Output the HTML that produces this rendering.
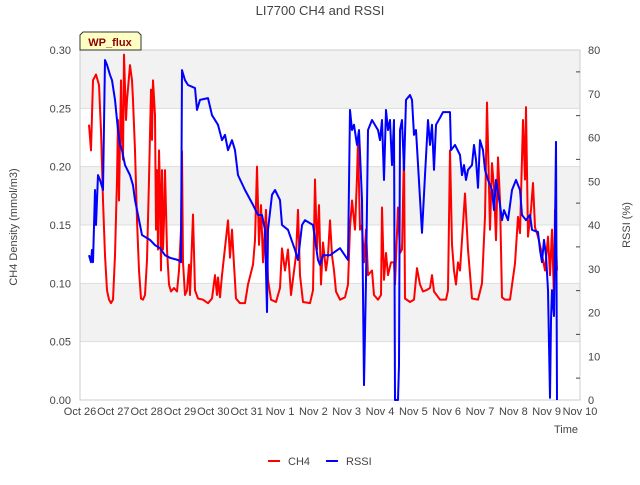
<!DOCTYPE html>
<html><head><meta charset="utf-8"><style>
body{margin:0;background:#fff;}
svg text{font-family:"Liberation Sans","DejaVu Sans",sans-serif;fill:#444;}
</style></head><body>
<svg id="chart" width="640" height="480" viewBox="0 0 640 480" xmlns="http://www.w3.org/2000/svg">
<g id="bands"></g>
<g id="grid"></g>
<rect x="80" y="50" width="500" height="350" fill="none" stroke="#ccc"/>
<text x="320" y="15" text-anchor="middle" font-size="13">LI7700 CH4 and RSSI</text>
<g id="yticks"></g><g id="y2ticks"></g><g id="xticks"></g>
<text transform="translate(17,227) rotate(-90)" text-anchor="middle" font-size="11">CH4 Density (mmol/m3)</text>
<text transform="translate(630,225) rotate(-90)" text-anchor="middle" font-size="11">RSSI (%)</text>
<text x="578" y="433" text-anchor="end" font-size="11">Time</text>
<g id="series"></g>
<g>
<path d="M83,32 L138,32 L141,35 L141,50 L80,50 L80,35 Z" fill="#ffffc4" stroke="#333"/>
<text x="110" y="46" text-anchor="middle" font-size="11" font-weight="bold" style="fill:#8b0000">WP_flux</text>
</g>
<g>
<line x1="268" y1="461" x2="280" y2="461" stroke="#f00" stroke-width="2"/>
<text x="288" y="465" font-size="11">CH4</text>
<line x1="326" y1="461" x2="338" y2="461" stroke="#00f" stroke-width="2"/>
<text x="346" y="465" font-size="11">RSSI</text>
</g>
</svg>
<script>
const xLabels=["Oct 26","Oct 27","Oct 28","Oct 29","Oct 30","Oct 31","Nov 1","Nov 2","Nov 3","Nov 4","Nov 5","Nov 6","Nov 7","Nov 8","Nov 9","Nov 10"];
const yTicks=[0,0.05,0.10,0.15,0.20,0.25,0.30];
const y2Ticks=[0,10,20,30,40,50,60,70,80];
const ch4Days=[0.27,0.33,0.39,0.48,0.57,0.63,0.69,0.75,0.81,0.87,0.93,0.99,1.05,1.11,1.14,1.17,1.23,1.26,1.29,1.32,1.38,1.41,1.50,1.56,1.59,1.65,1.71,1.77,1.83,1.89,1.95,2.01,2.07,2.13,2.16,2.19,2.25,2.28,2.31,2.34,2.37,2.40,2.43,2.46,2.49,2.52,2.55,2.61,2.67,2.73,2.82,2.91,2.97,3.03,3.06,3.09,3.15,3.21,3.27,3.30,3.39,3.45,3.54,3.69,3.84,3.96,4.05,4.11,4.14,4.20,4.26,4.44,4.50,4.56,4.62,4.68,4.80,4.95,5.04,5.19,5.25,5.31,5.37,5.43,5.49,5.58,5.64,5.73,5.88,6.00,6.06,6.15,6.24,6.33,6.48,6.54,6.60,6.69,6.90,6.99,7.05,7.11,7.17,7.23,7.29,7.38,7.44,7.50,7.56,7.62,7.68,7.80,7.95,8.04,8.10,8.16,8.25,8.31,8.34,8.40,8.46,8.52,8.58,8.64,8.76,8.82,8.94,9.03,9.06,9.12,9.18,9.24,9.33,9.42,9.45,9.54,9.60,9.66,9.72,9.75,9.90,10.02,10.11,10.20,10.29,10.38,10.50,10.56,10.62,10.80,10.98,11.04,11.10,11.16,11.22,11.28,11.34,11.40,11.55,11.64,11.76,11.94,12.06,12.15,12.21,12.30,12.36,12.42,12.48,12.54,12.60,12.66,12.75,12.90,13.05,13.14,13.20,13.29,13.35,13.38,13.44,13.53,13.59,13.65,13.74,13.83,13.95,14.04,14.10,14.16,14.22,14.25,14.31];
const ch4Values=[0.236,0.214,0.274,0.279,0.270,0.231,0.171,0.124,0.094,0.086,0.083,0.086,0.124,0.189,0.240,0.171,0.274,0.223,0.206,0.296,0.240,0.257,0.287,0.274,0.257,0.214,0.154,0.111,0.087,0.086,0.090,0.120,0.189,0.266,0.223,0.274,0.244,0.146,0.197,0.129,0.214,0.180,0.111,0.197,0.129,0.154,0.197,0.129,0.099,0.093,0.096,0.093,0.111,0.146,0.213,0.118,0.090,0.094,0.116,0.090,0.159,0.094,0.087,0.086,0.083,0.087,0.107,0.090,0.105,0.088,0.107,0.154,0.122,0.146,0.116,0.087,0.083,0.083,0.099,0.116,0.137,0.200,0.133,0.167,0.118,0.163,0.103,0.086,0.084,0.096,0.130,0.111,0.129,0.090,0.124,0.163,0.107,0.084,0.083,0.094,0.189,0.129,0.167,0.099,0.135,0.111,0.124,0.154,0.124,0.111,0.093,0.086,0.088,0.099,0.148,0.171,0.146,0.191,0.223,0.146,0.150,0.118,0.146,0.107,0.111,0.090,0.086,0.090,0.165,0.103,0.126,0.107,0.118,0.118,0.099,0.165,0.126,0.129,0.212,0.087,0.084,0.086,0.113,0.099,0.093,0.094,0.096,0.107,0.093,0.086,0.086,0.094,0.214,0.133,0.111,0.099,0.118,0.111,0.177,0.129,0.087,0.086,0.100,0.157,0.255,0.146,0.203,0.182,0.137,0.208,0.171,0.088,0.086,0.086,0.117,0.157,0.143,0.240,0.189,0.251,0.140,0.163,0.186,0.148,0.140,0.129,0.111,0.140,0.107,0.146,0.086,0.163,0.111];
const rssiDays=[0.27,0.33,0.36,0.39,0.45,0.48,0.54,0.60,0.69,0.75,0.81,0.90,0.96,1.05,1.11,1.14,1.20,1.26,1.35,1.50,1.59,1.65,1.74,1.80,1.86,2.10,2.25,2.40,2.55,2.70,2.94,3.03,3.06,3.15,3.24,3.45,3.51,3.60,3.84,3.96,4.14,4.26,4.35,4.44,4.56,4.65,4.74,4.95,5.19,5.34,5.46,5.55,5.61,5.64,5.76,5.85,6.00,6.06,6.24,6.45,6.54,6.66,6.75,6.99,7.14,7.20,7.29,7.50,7.80,8.04,8.10,8.16,8.22,8.31,8.37,8.46,8.52,8.58,8.64,8.76,8.94,9.00,9.06,9.12,9.18,9.24,9.30,9.36,9.42,9.45,9.54,9.57,9.60,9.66,9.72,9.78,9.90,9.96,10.02,10.08,10.26,10.35,10.44,10.50,10.56,10.62,10.68,10.80,10.89,11.10,11.13,11.25,11.40,11.46,11.52,11.58,11.64,11.76,11.82,11.88,11.94,12.00,12.09,12.15,12.24,12.36,12.42,12.48,12.60,12.66,12.72,12.84,12.96,13.08,13.20,13.26,13.38,13.50,13.56,13.74,13.80,13.86,13.92,13.98,14.04,14.10,14.13,14.16,14.22,14.28,14.31];
const rssiValues=[33.1,31.5,34.3,31.5,48.0,40.0,51.4,50.3,48.0,77.7,76.6,74.3,73.1,68.6,64.0,61.7,58.3,57.1,53.7,51.4,49.1,45.7,42.3,40.0,37.7,36.6,35.4,34.7,33.1,32.5,32.0,31.5,75.4,73.1,72.0,71.3,66.3,68.6,69.0,65.1,62.9,59.4,60.6,57.1,59.4,57.1,51.4,48.0,44.6,42.3,42.3,38.9,20.1,38.9,46.9,48.0,45.7,40.0,38.9,34.3,32.0,40.0,41.1,40.0,32.0,30.9,33.1,33.1,34.7,32.0,66.3,61.7,62.9,58.3,61.7,45.7,3.4,27.4,61.7,64.0,61.7,59.4,64.0,50.3,66.3,61.7,64.0,53.7,64.0,0,0,8.0,61.7,64.0,52.6,68.6,69.7,68.6,60.6,61.7,38.2,51.4,64.0,58.3,62.9,52.6,62.9,64.5,65.8,65.8,57.1,58.3,56.0,51.4,53.7,50.3,52.6,53.7,58.3,54.9,48.5,59.4,57.1,52.6,50.3,48.0,43.4,50.3,44.6,41.1,43.4,41.1,48.0,50.3,48.0,42.3,41.1,42.3,38.9,38.4,34.3,31.5,36.6,33.1,25.1,0.5,18.3,25.1,19.2,59.0,0];
const X0=80,X1=580,Y0=400,Y1=50;
const xs=d=>X0+d*(X1-X0)/15;
const ys=v=>Y0-v*(Y0-Y1)/0.30;
const ys2=v=>Y0-v*(Y0-Y1)/80;
const NS="http://www.w3.org/2000/svg";
function mk(tag,attrs,parent){const e=document.createElementNS(NS,tag);for(const k in attrs)e.setAttribute(k,attrs[k]);parent.appendChild(e);return e;}
const bands=document.getElementById('bands'),grid=document.getElementById('grid');
for(let i=0;i<yTicks.length-1;i++){
  if(i%2===1){const r=mk('rect',{x:X0,y:ys(yTicks[i+1]),width:X1-X0,height:ys(yTicks[i])-ys(yTicks[i+1]),fill:'#f2f2f2'},bands);
  
  }
}
const yt=document.getElementById('yticks');
yTicks.forEach(v=>{
  const l=mk('line',{x1:X0,x2:X1,y1:ys(v),y2:ys(v),stroke:'#ddd'},grid);
  
  
  const t=mk('text',{x:71,y:ys(v)+4,'text-anchor':'end','font-size':'11'},yt);t.textContent=v.toFixed(2);
  
  
});
const y2=document.getElementById('y2ticks');
y2Ticks.forEach(v=>{
  const t=mk('text',{x:588,y:ys2(v)+4,'font-size':'11'},y2);t.textContent=v;
  
  
  if(v<80){
  const m=mk('line',{x1:X1-4,x2:X1,y1:ys2(v+5),y2:ys2(v+5),stroke:'#444'},y2);
  
  
  }
});
const xt=document.getElementById('xticks');
xLabels.forEach((s,i)=>{
  const t=mk('text',{x:xs(i),y:415,'text-anchor':'middle','font-size':'11'},xt);t.textContent=s;
  
  
});
const ser=document.getElementById('series');
const p1=mk('polyline',{points:ch4Days.map((d,i)=>xs(d)+','+ys(ch4Values[i])).join(' '),fill:'none',stroke:'#f00','stroke-width':2,'stroke-linejoin':'round'},ser);


const p2=mk('polyline',{points:rssiDays.map((d,i)=>xs(d)+','+ys2(rssiValues[i])).join(' '),fill:'none',stroke:'#00f','stroke-width':2,'stroke-linejoin':'round'},ser);


</script>
</body></html>
